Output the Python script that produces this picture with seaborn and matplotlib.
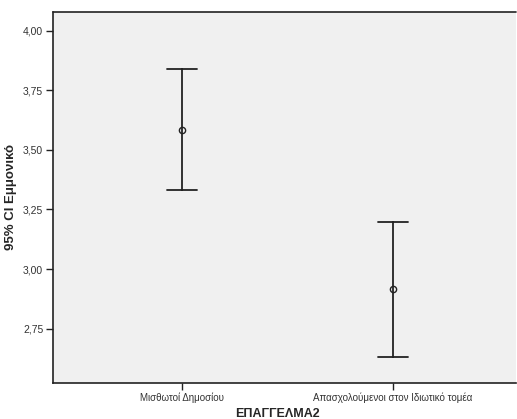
import seaborn as sns
import pandas as pd
import matplotlib.pyplot as plt
import matplotlib.ticker as mticker

groups = ["Μισθωτοί Δημοσίου", "Απασχολούμενοι στον Ιδιωτικό τομέα"]
means = [3.585, 2.915]
lower = [3.330, 2.631]
upper = [3.837, 3.196]

yticks = [2.75, 3.00, 3.25, 3.50, 3.75, 4.00]
ytick_labels = ["2,75", "3,00", "3,25", "3,50", "3,75", "4,00"]

# long table: lower / mean / upper for each group -> median gives mean, min/max give CI
rows = []
for g, lo, m, hi in zip(groups, lower, means, upper):
    for v in (lo, m, hi):
        rows.append({"group": g, "value": v})
data = pd.DataFrame(rows)

sns.set_theme(style="white")
plt.rcParams['font.family'] = ['Liberation Sans', 'DejaVu Sans']

fig = plt.figure(figsize=(5.17, 4.19), dpi=100)
ax = fig.add_axes([53/517, 1 - 382.5/419, 463/517, 371/419])
ax.set_facecolor("#f0f0f0")

sns.pointplot(data=data, x="group", y="value", order=groups,
              estimator="median", errorbar=("pi", 100),
              linestyle="none", color="#222222", capsize=0.14,
              err_kws={"linewidth": 1.3}, markers="o", markersize=4.5, ax=ax)
for line in ax.lines:
    line.set_markerfacecolor("none")
    line.set_markeredgewidth(1.0)

ax.set_xlim(-0.611, 1.583)
ax.set_ylim(2.524, 4.08)
ax.yaxis.set_major_locator(mticker.FixedLocator(yticks))
ax.yaxis.set_major_formatter(mticker.FixedFormatter(ytick_labels))

for s in ax.spines.values():
    s.set_visible(False)
ax.spines["left"].set_visible(True)
ax.spines["bottom"].set_visible(True)
ax.spines["left"].set_color("#222222")
ax.spines["bottom"].set_color("#222222")
ax.spines["left"].set_linewidth(1.2)
ax.spines["bottom"].set_linewidth(1.2)
ax.axhline(4.08, color="#222222", linewidth=1.2, clip_on=False)

ax.tick_params(axis="both", which="major", length=5, width=1, color="#222222",
               labelsize=7, labelcolor="#333333", direction="out", left=True, bottom=True, pad=2)
ax.tick_params(axis="y", labelsize=7.5)

ax.set_xlabel("ΕΠΑΓΓΕΛΜΑ2", fontsize=9, fontweight="bold")
ax.xaxis.set_label_coords(0.484, -0.069)
ax.set_ylabel("95% CI Εμμονικό", fontsize=9.5, fontweight="bold", labelpad=4)

fig.savefig("out.png", dpi=100)
